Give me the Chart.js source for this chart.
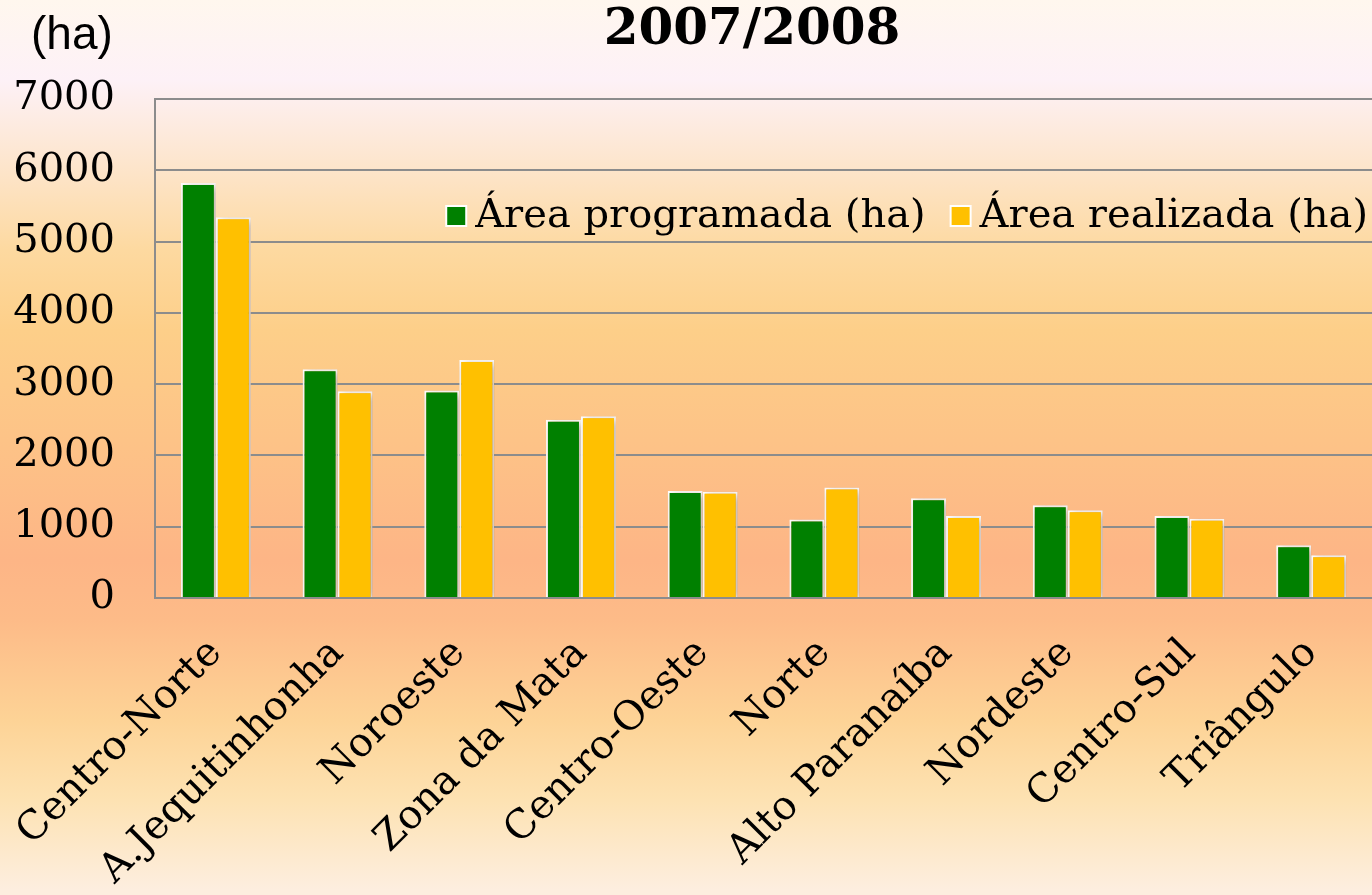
<!DOCTYPE html>
<html>
<head>
<meta charset="utf-8">
<script src="https://cdn.jsdelivr.net/npm/chart.js@4.4.1/dist/chart.umd.min.js"></script>
<style>
  html, body {
    margin: 0;
    padding: 0;
  }
  body {
    width: 1372px;
    height: 895px;
    overflow: hidden;
    background: linear-gradient(to bottom,
      #fff7ee 0px, #fdf1f7 80px, #fde6cf 160px, #fdd9a0 250px,
      #fdcf89 330px, #fdc387 440px, #fdb586 560px, #fdbb88 620px,
      #fdd396 720px, #fde2b2 800px, #fdeedf 890px);
  }
  #wrap {
    position: relative;
    width: 1372px;
    height: 895px;
  }
</style>
</head>
<body>
<div id="wrap"><canvas id="areaChart"></canvas></div>
<script>

const regions = [
    'Centro-Norte', 'A.Jequitinhonha', 'Noroeste', 'Zona da Mata', 'Centro-Oeste',
    'Norte', 'Alto Paranaíba', 'Nordeste', 'Centro-Sul', 'Triângulo'
];

const areaProgramada = [5820, 3210, 2910, 2500, 1500, 1100, 1400, 1300, 1150, 740];
const areaRealizada  = [5340, 2900, 3340, 2550, 1490, 1550, 1150, 1230, 1110, 600];

const seriesNames = ['Área programada (ha)', 'Área realizada (ha)'];
const seriesColors = ['#008000', '#ffc000'];

const yMax = 7000;
const yStep = 1000;

const chartTitle = '2007/2008';
const unitLabel = '(ha)';

// soft shadow under the bars
const barShadow = {
    id: 'barShadow',
    beforeDatasetsDraw(chart) {
        const ctx = chart.ctx;
        ctx.save();
        ctx.shadowColor = 'rgba(90, 50, 20, 0.4)';
        ctx.shadowBlur = 8;
        ctx.shadowOffsetX = 3;
        ctx.shadowOffsetY = 2;
    },
    afterDatasetsDraw(chart) {
        chart.ctx.restore();
    }
};

// title, unit and legend drawn on top
const extraText = {
    id: 'extraText',
    afterDraw(chart) {
        const ctx = chart.ctx;
        ctx.save();

        ctx.fillStyle = '#000';
        ctx.textBaseline = 'middle';

        ctx.font = 'bold 50px "DejaVu Serif"';
        ctx.textAlign = 'center';
        ctx.fillText(chartTitle, 752, 31);

        ctx.font = '46px "Liberation Sans"';
        ctx.textAlign = 'left';
        ctx.fillText(unitLabel, 31, 36);

        // legend inside the plot, right aligned
        ctx.font = '40px "DejaVu Serif"';
        ctx.textBaseline = 'alphabetic';
        const box = 20;
        const boxGap = 9;
        const itemGap = 25;
        const baseline = 227;
        let widths = seriesNames.map(n => ctx.measureText(n).width);
        let total = widths.reduce((a, b) => a + b, 0) + seriesNames.length * (box + boxGap) + itemGap;
        let x = chart.chartArea.right - 4 - total;

        seriesNames.forEach((name, i) => {
            ctx.fillStyle = seriesColors[i];
            ctx.strokeStyle = '#ffffff';
            ctx.lineWidth = 2;
            ctx.fillRect(x, baseline - box - 1, box, box);
            ctx.strokeRect(x, baseline - box - 1, box, box);
            x += box + boxGap;
            ctx.fillStyle = '#000';
            ctx.fillText(name, x, baseline);
            x += widths[i] + itemGap;
        });

        ctx.restore();
    }
};

function createAreaChart(){

    const ctx = document.getElementById('areaChart');

    new Chart(ctx, {

        type: 'bar',

        data: {

            labels: regions,

            datasets: [{
                label: seriesNames[0],
                data: areaProgramada,
                backgroundColor: seriesColors[0],
                borderColor: '#ffffff',
                borderWidth: 2,
                categoryPercentage: 0.575,
                barPercentage: 1.0
            }, {
                label: seriesNames[1],
                data: areaRealizada,
                backgroundColor: seriesColors[1],
                borderColor: '#ffffff',
                borderWidth: 2,
                categoryPercentage: 0.575,
                barPercentage: 1.0
            }]

        },

        options: {
            responsive: true,
            maintainAspectRatio: false,
            animation: false,
            layout: {
                padding: { left: 0, top: 99, right: 0, bottom: 0 }
            },
            plugins: {
                legend: { display: false },
                title: { display: false },
                tooltip: { enabled: false }
            },
            scales: {
                x: {
                    grid: { display: false },
                    border: { display: true, color: '#8c8c8c', width: 2 },
                    ticks: {
                        color: '#000',
                        font: { family: '"DejaVu Serif"', size: 40 },
                        minRotation: 45,
                        maxRotation: 45,
                        padding: 24,
                        autoSkip: false
                    },
                    afterFit(scale) {
                        scale.height = 297;
                        scale.paddingLeft = 0;
                        scale.paddingRight = 0;
                    }
                },
                y: {
                    min: 0,
                    max: yMax,
                    grid: {
                        color: '#8c8c8c',
                        lineWidth: 2,
                        drawTicks: false
                    },
                    border: { display: true, color: '#8c8c8c', width: 2 },
                    ticks: {
                        stepSize: yStep,
                        color: '#000',
                        font: { family: '"DejaVu Serif"', size: 40 },
                        padding: 40,
                        callback: (value) => String(value)
                    },
                    afterFit(scale) {
                        scale.width = 155;
                    }
                }
            }
        },

        plugins: [barShadow, extraText]

    });

}

createAreaChart();

</script>
</body>
</html>
